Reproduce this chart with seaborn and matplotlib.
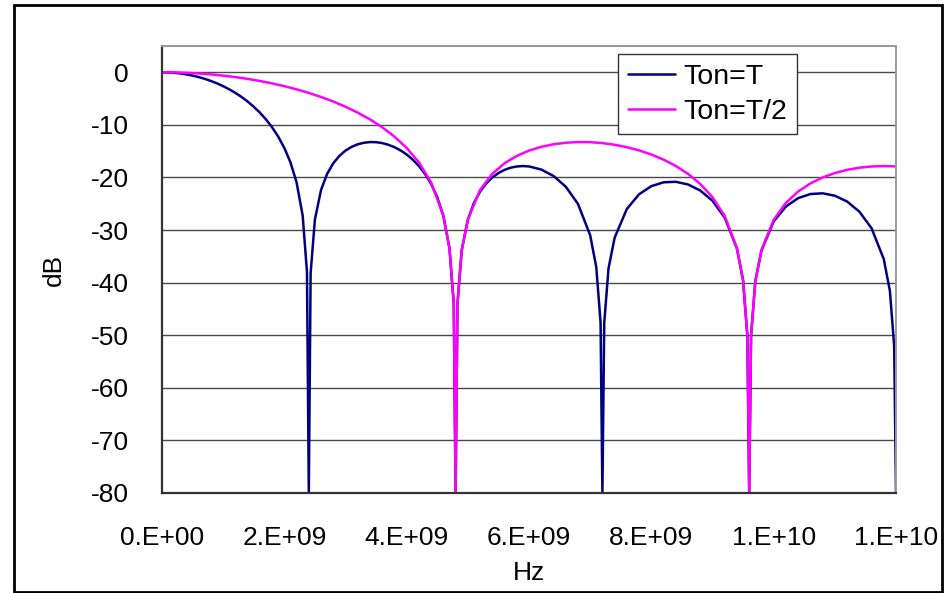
import numpy as np
import pandas as pd
import matplotlib
matplotlib.use("Agg")
import matplotlib.pyplot as plt
from matplotlib.patches import Rectangle
import seaborn as sns

# ---- data (frequency in GHz, level in dB) ----
x_ton_t = [0.0, 0.1, 0.2, 0.3, 0.4, 0.5, 0.6, 0.7, 0.8, 0.9,
           1.0, 1.1, 1.2, 1.3, 1.4, 1.5, 1.6, 1.7, 1.8, 1.9,
           2.0, 2.1, 2.2, 2.3, 2.37, 2.4, 2.43, 2.5, 2.6, 2.7,
           2.8, 2.9, 3.0, 3.1, 3.2, 3.3, 3.4, 3.5, 3.6, 3.7,
           3.8, 3.9, 4.0, 4.1, 4.2, 4.3, 4.4, 4.5, 4.6, 4.7,
           4.77, 4.8, 4.83, 4.9, 5.0, 5.1, 5.2, 5.3, 5.4, 5.5,
           5.6, 5.7, 5.8, 5.9, 6.0, 6.2, 6.4, 6.6, 6.8, 7.0,
           7.1, 7.17, 7.2, 7.23, 7.3, 7.4, 7.6, 7.8, 8.0, 8.2,
           8.4, 8.6, 8.8, 9.0, 9.2, 9.4, 9.5, 9.57, 9.6, 9.63,
           9.7, 9.8, 10.0, 10.2, 10.4, 10.6, 10.8, 11.0, 11.2, 11.4,
           11.6, 11.8, 11.9, 11.97, 12.0]
db_ton_t = [0.0, -0.02, -0.10, -0.22, -0.40, -0.63, -0.91, -1.25, -1.65, -2.11,
            -2.64, -3.24, -3.92, -4.69, -5.56, -6.55, -7.67, -8.96, -10.45, -12.23,
            -14.38, -17.13, -20.93, -27.26, -37.95, -80.0, -38.17, -27.98, -22.38, -19.31,
            -17.30, -15.90, -14.89, -14.18, -13.69, -13.40, -13.27, -13.29, -13.46, -13.78,
            -14.24, -14.85, -15.63, -16.61, -17.81, -19.32, -21.23, -23.75, -27.33, -33.47,
            -44.03, -80.0, -44.14, -33.83, -28.06, -24.83, -22.68, -21.14, -20.00, -19.16,
            -18.55, -18.14, -17.91, -17.83, -17.90, -18.49, -19.71, -21.74, -25.01, -30.98,
            -37.05, -47.57, -80.0, -47.64, -37.29, -31.46, -25.98, -23.19, -21.65, -20.92,
            -20.82, -21.33, -22.48, -24.43, -27.64, -33.54, -39.58, -50.07, -80.0, -50.13,
            -39.76, -33.90, -28.36, -25.52, -23.93, -23.15, -23.01, -23.47, -24.57, -26.49,
            -29.65, -35.52, -41.54, -52.02, -80.0]

x_ton_t2 = [0.0, 0.2, 0.4, 0.6, 0.8, 1.0, 1.2, 1.4, 1.6, 1.8,
            2.0, 2.2, 2.4, 2.6, 2.8, 3.0, 3.2, 3.4, 3.6, 3.8,
            4.0, 4.2, 4.4, 4.6, 4.7, 4.77, 4.8, 4.83, 4.9, 5.0,
            5.2, 5.4, 5.6, 5.8, 6.0, 6.2, 6.4, 6.6, 6.8, 7.0,
            7.2, 7.4, 7.6, 7.8, 8.0, 8.2, 8.4, 8.6, 8.8, 9.0,
            9.2, 9.4, 9.5, 9.57, 9.6, 9.63, 9.7, 9.8, 10.0, 10.2,
            10.4, 10.6, 10.8, 11.0, 11.2, 11.4, 11.6, 11.8, 12.0]
db_ton_t2 = [0.0, -0.02, -0.10, -0.22, -0.40, -0.63, -0.91, -1.25, -1.65, -2.11,
             -2.64, -3.24, -3.92, -4.69, -5.56, -6.55, -7.67, -8.96, -10.45, -12.23,
             -14.38, -17.13, -20.93, -27.26, -33.45, -44.03, -80.0, -44.14, -33.81, -27.98,
             -22.38, -19.31, -17.30, -15.90, -14.89, -14.18, -13.69, -13.40, -13.27, -13.29,
             -13.46, -13.78, -14.24, -14.85, -15.63, -16.61, -17.81, -19.32, -21.23, -23.75,
             -27.33, -33.47, -39.56, -50.08, -80.0, -50.13, -39.74, -33.83, -28.06, -24.83,
             -22.68, -21.14, -20.00, -19.16, -18.55, -18.14, -17.91, -17.83, -17.90]

series_names = ["Ton=T", "Ton=T/2"]
x_tick_values = [0, 2e9, 4e9, 6e9, 8e9, 1e10, 1.2e10]
x_tick_labels = ["0.E+00", "2.E+09", "4.E+09", "6.E+09", "8.E+09", "1.E+10", "1.E+10"]
y_tick_values = [0, -10, -20, -30, -40, -50, -60, -70, -80]
y_tick_labels = ["0", "-10", "-20", "-30", "-40", "-50", "-60", "-70", "-80"]

# ---- style ----
sns.set_style("white")
plt.rcParams["font.family"] = ["Liberation Sans", "DejaVu Sans"]
plt.rcParams["text.color"] = "black"
plt.rcParams["axes.labelcolor"] = "black"
plt.rcParams["xtick.color"] = "black"
plt.rcParams["ytick.color"] = "black"
FS = 19

df1 = pd.DataFrame({"Hz": np.array(x_ton_t) * 1e9, "dB": db_ton_t})
df2 = pd.DataFrame({"Hz": np.array(x_ton_t2) * 1e9, "dB": db_ton_t2})

fig = plt.figure(figsize=(9.5, 5.93), dpi=100)
W, H = 950, 593
ax = fig.add_axes([162 / W, 1 - 493 / H, (896 - 162) / W, (493 - 46) / H])

sns.lineplot(data=df1, x="Hz", y="dB", ax=ax, color="#000080", linewidth=1.8,
             label=series_names[0], sort=False, estimator=None)
sns.lineplot(data=df2, x="Hz", y="dB", ax=ax, color="#FF00FF", linewidth=1.8,
             label=series_names[1], sort=False, estimator=None)

ax.set_xlim(0, 1.2e10)
ax.set_ylim(-80, 5)
ax.set_xticks(x_tick_values)
ax.set_xticklabels(x_tick_labels)
ax.set_yticks(y_tick_values)
ax.set_yticklabels(y_tick_labels)

ax.grid(False)
for yv in y_tick_values[:-1]:
    ax.axhline(yv, color="#4a4a4a", linewidth=1.0, zorder=0.5)

ax.tick_params(axis="x", direction="in", length=6.5, width=1, color="#222222",
               labelsize=FS, labelcolor="black", pad=24, top=False)
ax.tick_params(axis="y", direction="in", length=6.5, width=1, color="#222222",
               labelsize=FS, labelcolor="black", pad=24, right=False)

for side in ["left", "bottom"]:
    ax.spines[side].set_color("#333333")
    ax.spines[side].set_linewidth(1.6)
for side in ["top", "right"]:
    ax.spines[side].set_color("#999999")
    ax.spines[side].set_linewidth(1.4)
    ax.spines[side].set_visible(True)

ax.set_xlabel("Hz", fontsize=FS, labelpad=8, color="black")
ax.set_ylabel("dB", fontsize=FS, labelpad=18, color="black")

leg = ax.legend(loc="upper left", bbox_to_anchor=((618 - 162) / 734, (493 - 54) / 447),
                borderaxespad=0, fontsize=20.5, frameon=True, fancybox=False,
                handlelength=1.65, handletextpad=0.3, labelspacing=0.3,
                borderpad=0.35)
leg.get_frame().set_edgecolor("#333333")
leg.get_frame().set_linewidth(1.0)
leg.get_frame().set_alpha(1)
for t in leg.get_texts():
    t.set_color("black")

# outer chart frame
fig.patches.append(Rectangle((14 / W, 1 - 592 / H), (942 - 14) / W, (592 - 5) / H,
                             transform=fig.transFigure, fill=False,
                             edgecolor="black", linewidth=2))

fig.savefig("out.png", dpi=100)
